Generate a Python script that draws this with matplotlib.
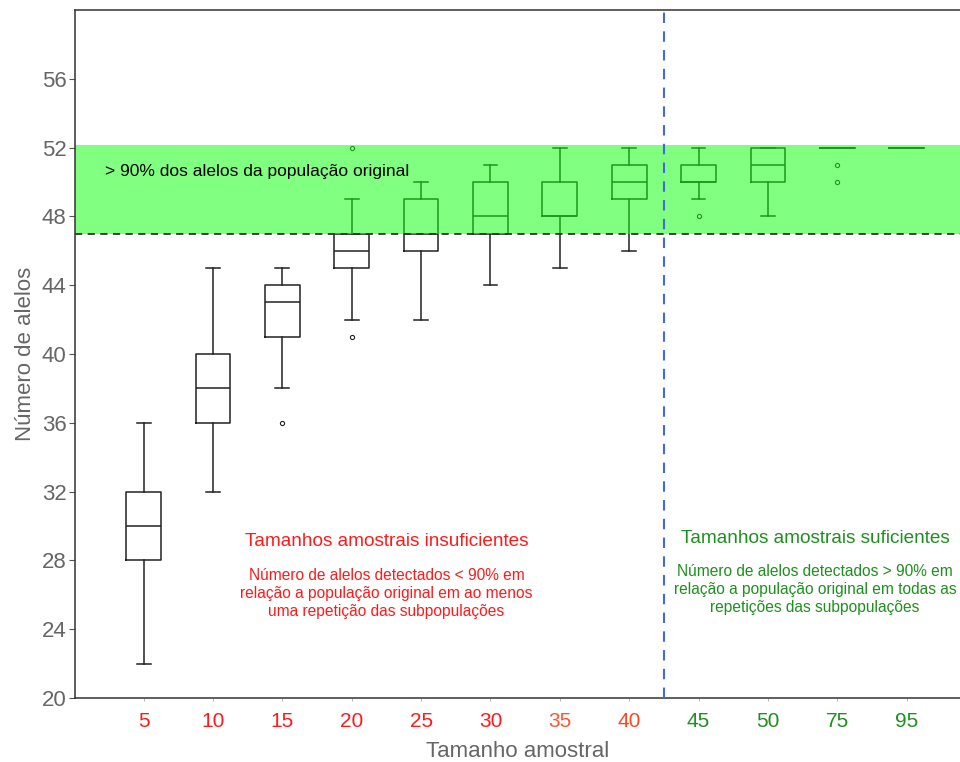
import matplotlib
matplotlib.use("Agg")
import matplotlib.pyplot as plt
from matplotlib.patches import Rectangle

plt.rcParams['font.family'] = ['Liberation Sans', 'DejaVu Sans']

# Sample sizes and box-plot summaries of the number of alleles detected
sample_sizes = ["5", "10", "15", "20", "25", "30", "35", "40", "45", "50", "75", "95"]
medians = [30, 38, 43, 46, 47, 48, 48, 50, 50, 51, 52, 52]
q1 = [28, 36, 41, 45, 46, 47, 48, 49, 50, 50, 52, 52]
q3 = [32, 40, 44, 47, 49, 50, 50, 51, 51, 52, 52, 52]
whisker_low = [22, 32, 38, 42, 42, 44, 45, 46, 49, 48, 52, 52]
whisker_high = [36, 45, 45, 49, 50, 51, 52, 52, 52, 52, 52, 52]
outliers = [[], [], [36], [41, 52], [], [], [], [], [48], [], [50, 51], []]

threshold = 47       # 90% of the alleles of the original population
band_top = 52.15
y_ticks = [20, 24, 28, 32, 36, 40, 44, 48, 52, 56]

tick_colors = ["#ff1a1a"] * 6 + ["#ff5533", "#ff4422"] + ["#1f8f1f"] * 4
RED = "#ff1a1a"
GREEN = "#1f8f1f"
BOX_GREEN = "#1a9a1a"

fig = plt.figure(figsize=(9.6, 7.62), dpi=100)
ax = fig.add_axes([75 / 960, 1 - 698 / 762, 885 / 960, 688 / 762])

positions = list(range(len(sample_sizes)))
stats = []
for i in positions:
    stats.append(dict(med=medians[i], q1=q1[i], q3=q3[i],
                      whislo=whisker_low[i], whishi=whisker_high[i],
                      fliers=outliers[i], label=sample_sizes[i]))

ax.axhspan(threshold, band_top, color="#80ff80", zorder=0, lw=0)


def draw_boxes(color, clip_rect):
    art = ax.bxp(stats, positions=positions, widths=0.5, capwidths=0.2,
                 boxprops=dict(color=color, lw=1.1),
                 whiskerprops=dict(color=color, lw=1.1),
                 capprops=dict(color=color, lw=1.1),
                 medianprops=dict(color=color, lw=1.1),
                 flierprops=dict(marker="o", markersize=3, markerfacecolor="none",
                                 markeredgecolor=color, markeredgewidth=0.8),
                 manage_ticks=False, zorder=3)
    ax.add_patch(clip_rect)
    clip_rect.set_visible(False)
    for key in ("boxes", "medians", "whiskers", "caps", "fliers"):
        for a in art[key]:
            a.set_clip_path(clip_rect)


draw_boxes("#222222", Rectangle((-5, 0), 30, threshold, transform=ax.transData))
draw_boxes(BOX_GREEN, Rectangle((-5, threshold), 30, 30, transform=ax.transData))

ax.axhline(threshold, color="#333333", lw=1.3, linestyle=(0, (4, 3)), zorder=4)
ax.axvline(7.5, color="#4169e1", lw=1.5, linestyle=(0, (5, 4)), zorder=4)

ax.set_xlim(-0.99, 11.77)
ax.set_ylim(20, 60)
ax.set_yticks(y_ticks)
ax.set_yticklabels([str(v) for v in y_ticks], fontsize=16, color="#666666")
ax.set_xticks(positions)
ax.set_xticklabels(sample_sizes, fontsize=15)
for lbl, c in zip(ax.get_xticklabels(), tick_colors):
    lbl.set_color(c)
ax.tick_params(axis="y", length=4, width=0.8, color="#555555", pad=2)
ax.tick_params(axis="x", length=2, width=0.6, color="#aaaaaa", pad=8)

for side in ("left", "bottom", "top"):
    ax.spines[side].set_color("#333333")
    ax.spines[side].set_linewidth(1.1)
ax.spines["right"].set_visible(False)

ax.set_ylabel("Número de alelos", fontsize=16, color="#666666", labelpad=4)
ax.set_xlabel("Tamanho amostral", fontsize=16, color="#666666", labelpad=7)

ax.text(-0.555, 50.6, "> 90% dos alelos da população original", fontsize=12.5,
        color="black", ha="left", va="center", zorder=5)

ax.text(3.5, 29.1, "Tamanhos amostrais insuficientes", fontsize=13.7,
        color=RED, ha="center", va="center")
ax.text(3.5, 26.1, "Número de alelos detectados < 90% em\n"
        "relação a população original em ao menos\n"
        "uma repetição das subpopulações", fontsize=11.2, color=RED,
        ha="center", va="center", linespacing=1.25)

ax.text(9.68, 29.25, "Tamanhos amostrais suficientes", fontsize=13.7,
        color=GREEN, ha="center", va="center")
ax.text(9.68, 26.3, "Número de alelos detectados > 90% em\n"
        "relação a população original em todas as\n"
        "repetições das subpopulações", fontsize=11.2, color=GREEN,
        ha="center", va="center", linespacing=1.25)

fig.savefig("out.png", dpi=100)
